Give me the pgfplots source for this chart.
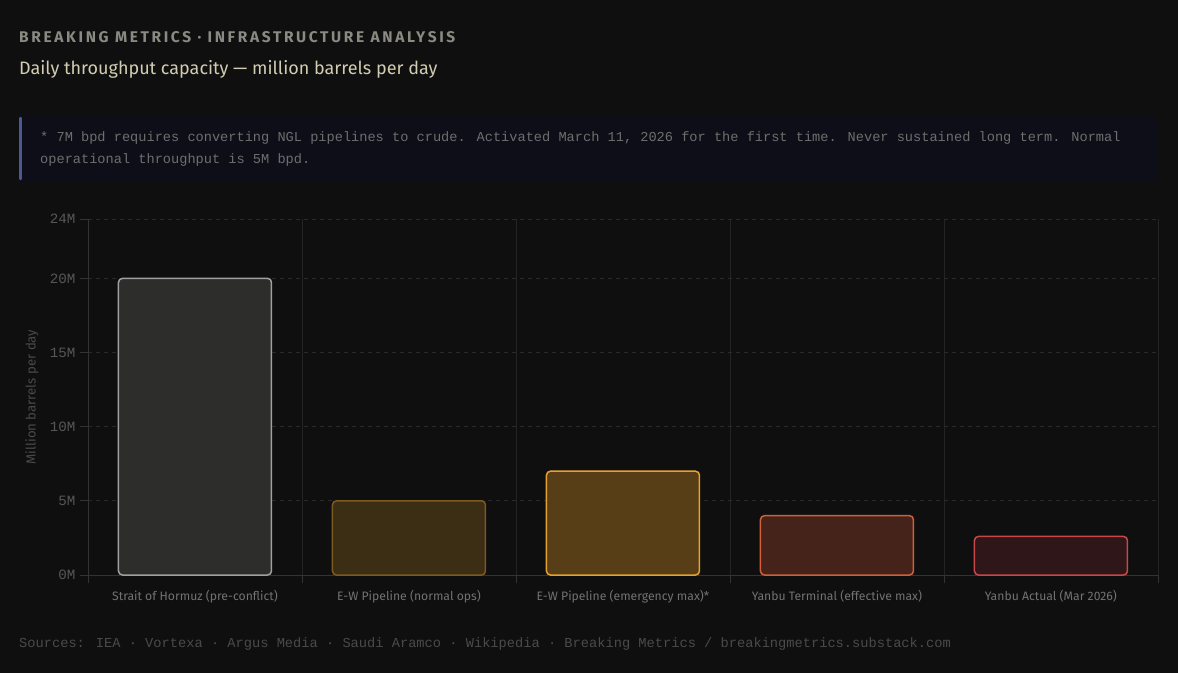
\documentclass[border=0pt]{standalone}
\usepackage{fontspec}
\usepackage{pgfplots}
\pgfplotsset{compat=1.18}
\setmainfont{Fira Sans}
\newfontfamily\monofont{Liberation Mono}
\newfontfamily\headfont{Fira Sans}[LetterSpace=17]
\definecolor{bg}{HTML}{0F0F0F}
\definecolor{notebg}{HTML}{0D0E18}
\definecolor{notebar}{HTML}{4C5A94}
\definecolor{notetxt}{HTML}{6E6E6E}
\definecolor{headc}{HTML}{8A8A82}
\definecolor{subc}{HTML}{D2CDB2}
\definecolor{axisc}{HTML}{333333}
\definecolor{gridc}{HTML}{2A2A2A}
\definecolor{vgridc}{HTML}{242424}
\definecolor{tickc}{HTML}{575757}
\definecolor{xlabc}{HTML}{727272}
\definecolor{ylabc}{HTML}{4A4A4A}
\definecolor{srcc}{HTML}{4A4A4A}
\definecolor{f1}{HTML}{2D2D2C}\definecolor{s1}{HTML}{A0A0A0}
\definecolor{f2}{HTML}{3C2D15}\definecolor{s2}{HTML}{7D5A20}
\definecolor{f3}{HTML}{573E16}\definecolor{s3}{HTML}{E8A030}
\definecolor{f4}{HTML}{45221A}\definecolor{s4}{HTML}{D0603A}
\definecolor{f5}{HTML}{2F1618}\definecolor{s5}{HTML}{C8484A}
\begin{document}
\begin{tikzpicture}[x=1pt,y=1pt]
\fill[bg] (0,0) rectangle (1178,-673);
% header
\node[anchor=base west,inner sep=0pt,text=headc,font=\headfont\bfseries\fontsize{15.5}{17}\selectfont] at (19,-42) {BREAKING METRICS · INFRASTRUCTURE ANALYSIS};
\node[anchor=base west,inner sep=0pt,text=subc,font=\fontsize{18}{20}\selectfont] at (19,-74) {Daily throughput capacity — million barrels per day};
% note box
\fill[notebg,rounded corners=5pt] (19,-115) rectangle (1158,-182);
\draw[notebar,line width=2.5pt,line cap=round] (20.5,-118) -- (20.5,-179);
\node[anchor=base west,inner sep=0pt,text=notetxt,font=\monofont\fontsize{13.64}{16}\selectfont] at (40,-141) {* 7M bpd requires converting NGL pipelines to crude. Activated March 11, 2026 for the first time. Never sustained long term. Normal};
\node[anchor=base west,inner sep=0pt,text=notetxt,font=\monofont\fontsize{13.64}{16}\selectfont] at (40,-163) {operational throughput is 5M bpd.};
% y label
\node[rotate=90,text=ylabc,font=\fontsize{13.2}{15}\selectfont] at (32,-397) {Million barrels per day};
\begin{axis}[
  at={(88pt,-575pt)}, anchor=south west,
  scale only axis, width=1070pt, height=356pt,
  xmin=-0.5, xmax=4.5, ymin=0, ymax=24,
  axis x line*=bottom, axis y line*=left,
  axis line style={-, draw=axisc, line width=0.8pt},
  tick align=outside,
  ytick={0,5,10,15,20,24},
  yticklabels={0M,5M,10M,15M,20M,24M},
  yticklabel style={font=\monofont\fontsize{14.2}{15}\selectfont, text=tickc, xshift=-1pt},
  major tick length=8pt, minor tick length=8pt,
  major y tick style={draw=axisc, line width=0.8pt},
  ymajorgrids, major y grid style={draw=gridc, line width=0.8pt, dash pattern=on 4pt off 4pt},
  xtick={0,1,2,3,4},
  xticklabels={Strait of Hormuz (pre-conflict),E-W Pipeline (normal ops),E-W Pipeline (emergency max)*,Yanbu Terminal (effective max),Yanbu Actual (Mar 2026)},
  xticklabel style={font=\fontsize{12.2}{14}\selectfont, text=xlabc, yshift=-4pt},
  major x tick style={draw=none},
  minor xtick={-0.5,0.5,1.5,2.5,3.5,4.5},
  minor x tick style={draw=axisc, line width=0.8pt},
  xminorgrids, minor x grid style={draw=vgridc, line width=0.8pt, solid},
  clip=false,
]
\addplot[ybar, bar shift=0pt, bar width=153pt, fill=f1, draw=s1, line width=1.5pt, rounded corners=4pt] coordinates {(0,20)};
\addplot[ybar, bar shift=0pt, bar width=153pt, fill=f2, draw=s2, line width=1.5pt, rounded corners=4pt] coordinates {(1,5)};
\addplot[ybar, bar shift=0pt, bar width=153pt, fill=f3, draw=s3, line width=1.5pt, rounded corners=4pt] coordinates {(2,7)};
\addplot[ybar, bar shift=0pt, bar width=153pt, fill=f4, draw=s4, line width=1.5pt, rounded corners=4pt] coordinates {(3,4)};
\addplot[ybar, bar shift=0pt, bar width=153pt, fill=f5, draw=s5, line width=1.5pt, rounded corners=4pt] coordinates {(4,2.6)};
\end{axis}
% sources
\node[anchor=base west,inner sep=0pt,text=srcc,font=\monofont\fontsize{13.7}{16}\selectfont] at (19,-647) {Sources: IEA · Vortexa · Argus Media · Saudi Aramco · Wikipedia · Breaking Metrics / breakingmetrics.substack.com};
\end{tikzpicture}
\end{document}
